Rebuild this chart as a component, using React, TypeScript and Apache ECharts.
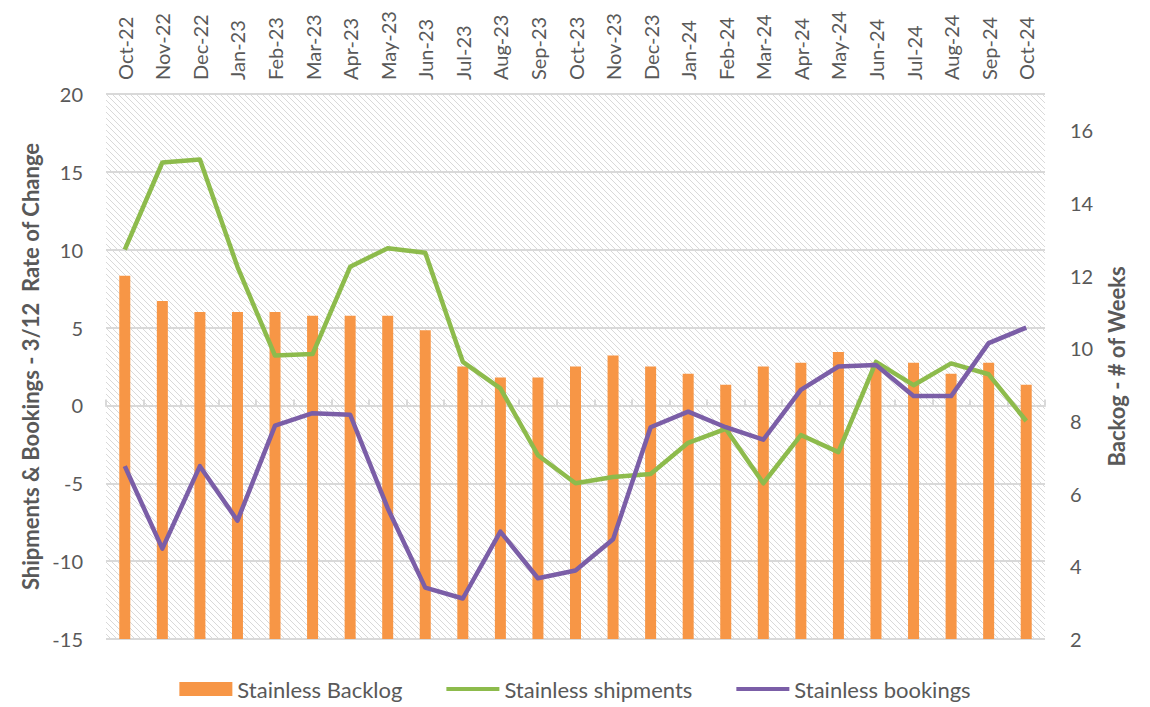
import React, { useEffect, useRef } from "react";
import * as echarts from "echarts";

const categories = [
  "Oct-22", "Nov-22", "Dec-22", "Jan-23", "Feb-23", "Mar-23", "Apr-23", "May-23", "Jun-23",
  "Jul-23", "Aug-23", "Sep-23", "Oct-23", "Nov-23", "Dec-23", "Jan-24", "Feb-24", "Mar-24",
  "Apr-24", "May-24", "Jun-24", "Jul-24", "Aug-24", "Sep-24", "Oct-24",
];

const backlog = [12.0, 11.3, 11.0, 11.0, 11.0, 10.9, 10.9, 10.9, 10.5, 9.5, 9.2, 9.2, 9.5, 9.8, 9.5, 9.3, 9.0, 9.5, 9.6, 9.9, 9.6, 9.6, 9.3, 9.6, 9.0];

const shipments = [10.0, 15.6, 15.8, 8.9, 3.2, 3.3, 8.9, 10.1, 9.8, 2.8, 1.1, -3.2, -5.0, -4.6, -4.4, -2.4, -1.5, -5.0, -1.9, -3.0, 2.8, 1.3, 2.7, 2.0, -1.0];

const bookings = [-3.9, -9.2, -3.9, -7.4, -1.3, -0.5, -0.6, -6.6, -11.7, -12.4, -8.1, -11.1, -10.6, -8.6, -1.4, -0.4, -1.4, -2.2, 1.0, 2.5, 2.6, 0.6, 0.6, 4.0, 5.0];

const leftAxisName = "Shipments & Bookings - 3/12  Rate of Change";
const rightAxisName = "Backog - # of Weeks";
const seriesNames = ["Stainless Backlog", "Stainless shipments", "Stainless bookings"];

const FONT = "Lato, 'Noto Sans', sans-serif";
const TEXT = "#595959";
const GRID = "#d9d9d9";
const ORANGE = "#F79646";
const GREEN = "#8DBB4C";
const PURPLE = "#7B5EA7";
const LINE_ICON = "path://M0,0L53,0L53,4L0,4Z";

function makeHatch() {
  const size = 6;
  const c = document.createElement("canvas");
  c.width = size;
  c.height = size;
  const ctx = c.getContext("2d");
  if (ctx) {
    ctx.fillStyle = "#ffffff";
    ctx.fillRect(0, 0, size, size);
    ctx.strokeStyle = "#d9d9d9";
    ctx.lineWidth = 1;
    ctx.beginPath();
    ctx.moveTo(-1, -1);
    ctx.lineTo(size + 1, size + 1);
    ctx.moveTo(-1, size - 1);
    ctx.lineTo(1, size + 1);
    ctx.moveTo(size - 1, -1);
    ctx.lineTo(size + 1, 1);
    ctx.stroke();
  }
  return c;
}

export default function App() {
  const ref = useRef<HTMLDivElement>(null);

  useEffect(() => {
    document.body.style.margin = "0";
    if (!ref.current) return;
    const chart = echarts.init(ref.current, null, { renderer: "svg" });
    const gl = 106, gr = 105, gt = 94, gb = 68;
    const W = 1150, H = 707;
    const hatch = makeHatch();

    chart.setOption({
      animation: false,
      backgroundColor: "#ffffff",
      textStyle: { fontFamily: FONT },
      graphic: [
        {
          type: "rect",
          z: -100,
          silent: true,
          shape: { x: gl, y: gt, width: W - gl - gr, height: H - gt - gb },
          style: {
            fill: { image: hatch, repeat: "repeat", imageWidth: 6, imageHeight: 6 } as any,
          },
        },
      ],
      grid: { left: gl, right: gr, top: gt, bottom: gb, containLabel: false },
      legend: {
        left: "center",
        top: 673,
        itemWidth: 53,
        itemHeight: 14,
        itemGap: 44,
        textStyle: { color: TEXT, fontSize: 22, fontFamily: FONT, padding: [0, 0, 0, 0] },
        data: [
          { name: seriesNames[0], icon: "rect" },
          { name: seriesNames[1], icon: LINE_ICON, lineStyle: { width: 4, color: GREEN } },
          { name: seriesNames[2], icon: LINE_ICON, lineStyle: { width: 4, color: PURPLE } },
        ],
      },
      xAxis: {
        type: "category",
        position: "top",
        data: categories,
        boundaryGap: true,
        axisLine: { show: true, lineStyle: { color: GRID, width: 2 } },
        axisTick: { show: true, inside: false, length: 6, lineStyle: { color: GRID, width: 2 } },
        axisLabel: { rotate: 90, color: TEXT, fontSize: 20, fontFamily: FONT, margin: 14, interval: 0 },
        splitLine: { show: false },
      },
      yAxis: [
        {
          type: "value",
          min: -15,
          max: 20,
          interval: 5,
          position: "left",
          name: leftAxisName,
          nameLocation: "middle",
          nameRotate: 90,
          nameGap: 63,
          nameTextStyle: { color: TEXT, fontSize: 22, fontWeight: "bold", fontFamily: FONT },
          axisLine: { show: false },
          axisTick: { show: false },
          axisLabel: { color: TEXT, fontSize: 20, fontFamily: FONT, margin: 23 },
          splitLine: { show: true, lineStyle: { color: GRID, width: 2 } },
        },
        {
          type: "value",
          min: 2,
          max: 17,
          interval: 2,
          position: "right",
          name: rightAxisName,
          nameLocation: "middle",
          nameRotate: 90,
          nameGap: 60,
          nameTextStyle: { color: TEXT, fontSize: 22, fontWeight: "bold", fontFamily: FONT },
          axisLine: { show: false },
          axisTick: { show: false },
          axisLabel: { color: TEXT, fontSize: 20, fontFamily: FONT, margin: 25, showMaxLabel: false },
          splitLine: { show: false },
        },
      ],
      series: [
        {
          name: seriesNames[0],
          type: "bar",
          yAxisIndex: 1,
          data: backlog,
          barWidth: 11,
          itemStyle: { color: ORANGE },
          z: 2,
        },
        {
          name: seriesNames[1],
          type: "line",
          yAxisIndex: 0,
          data: shipments,
          symbol: "none",
          lineStyle: { color: GREEN, width: 4.5, join: "round" },
          itemStyle: { color: GREEN },
          z: 3,
        },
        {
          name: seriesNames[2],
          type: "line",
          yAxisIndex: 0,
          data: bookings,
          symbol: "none",
          lineStyle: { color: PURPLE, width: 4.5, join: "round" },
          itemStyle: { color: PURPLE },
          z: 4,
        },
      ],
    });

    return () => chart.dispose();
  }, []);

  return <div ref={ref} style={{ width: 1150, height: 707 }} />;
}
